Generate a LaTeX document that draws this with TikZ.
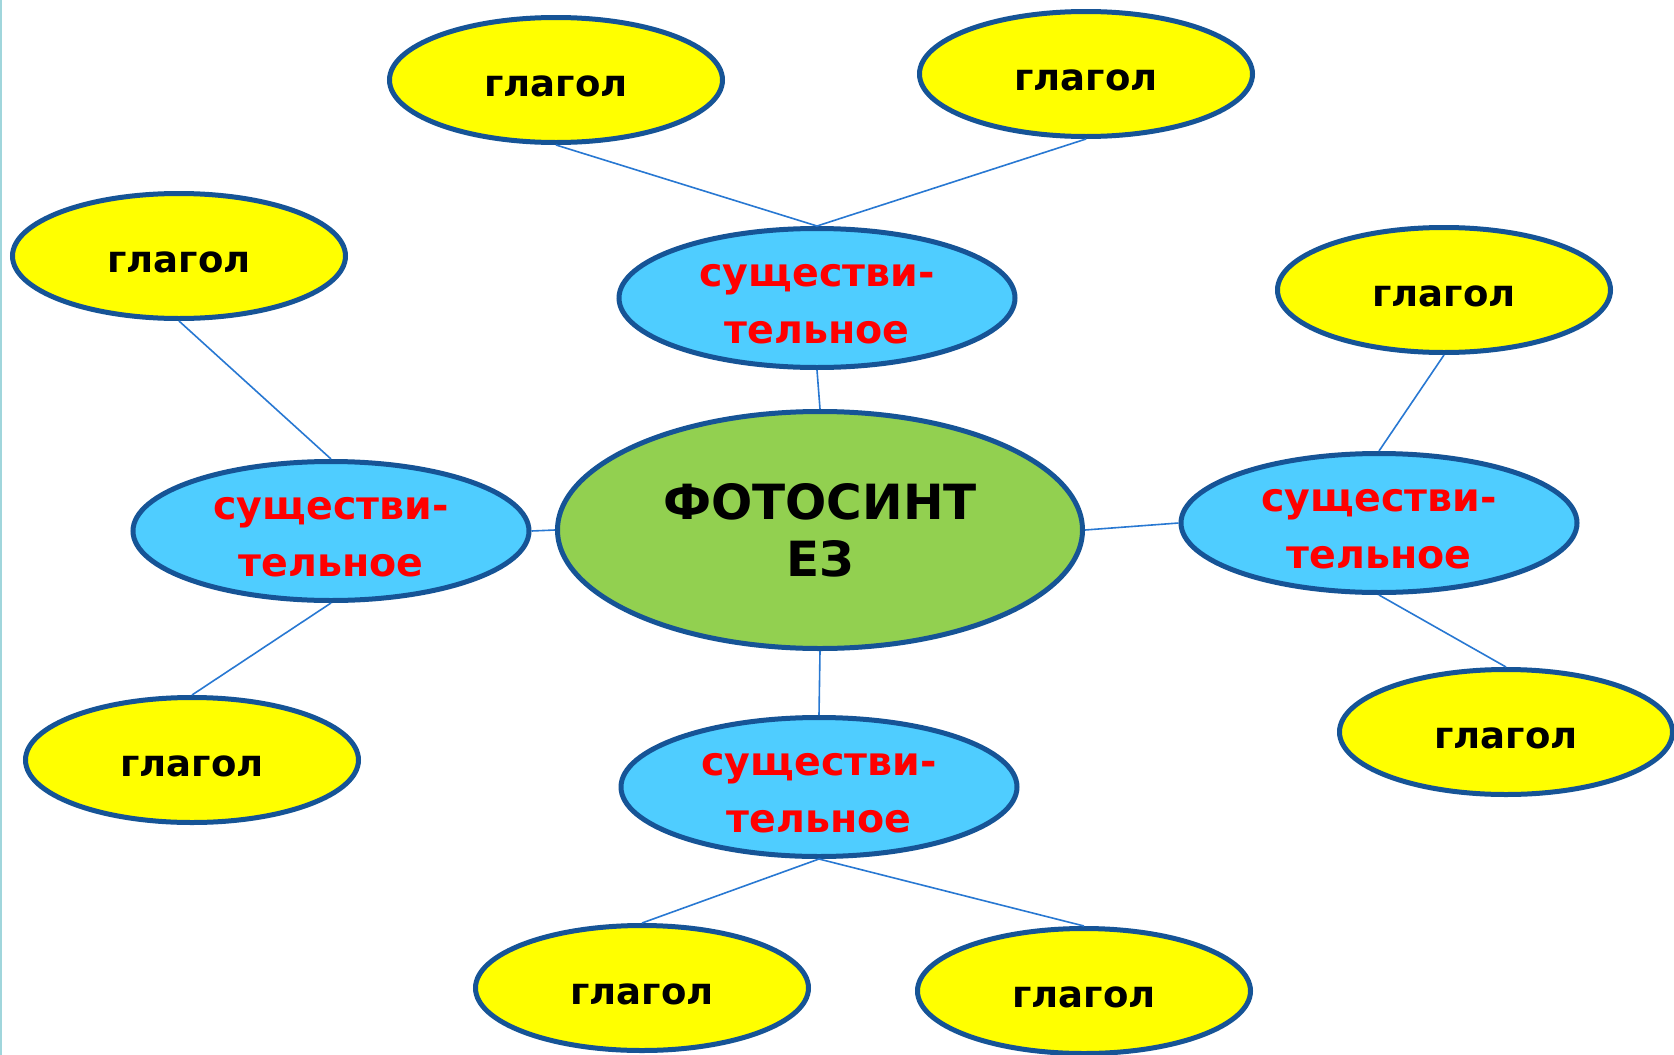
\documentclass[tikz,border=0pt]{standalone}
\usepackage{fontspec}
\setmainfont{DejaVu Sans}
\usetikzlibrary{shapes.geometric}
\definecolor{rim}{RGB}{22,84,150}
\definecolor{link}{RGB}{40,120,210}
\definecolor{yel}{RGB}{255,255,0}
\definecolor{sky}{RGB}{79,205,255}
\definecolor{leaf}{RGB}{146,208,80}
\definecolor{edgeline}{RGB}{160,214,220}
\newcommand\lowtxt[1]{\raisebox{-6pt}[\height][\depth]{#1}}
\tikzset{
  blob/.style={ellipse, draw=rim, line width=5pt, inner sep=0pt},
  verbnode/.style={blob, fill=yel, minimum width=333pt, minimum height=125pt,
    font=\fontsize{37}{44}\selectfont\bfseries, text=black},
  nounnode/.style={blob, fill=sky, minimum width=396pt, minimum height=139pt,
    font=\fontsize{39.5}{57}\selectfont\bfseries, text=red, align=center},
  mainnode/.style={blob, fill=leaf, minimum width=525pt, minimum height=237pt,
    font=\fontsize{48.5}{57}\selectfont\bfseries, text=black, align=center},
  conn/.style={draw=link, line width=1.6pt}
}
\begin{document}
\begin{tikzpicture}[x=1pt,y=-1pt]
\clip (0,0) rectangle (1674,1055);
\fill[white] (0,0) rectangle (1674,1055);
\draw[edgeline, line width=1.5pt] (0.75,0) -- (0.75,1055);
\node[mainnode] (c) at (820,530) {ФОТОСИНТ\\ЕЗ};
\node[nounnode] (nt) at (817,298) {\lowtxt{существи-}\\\lowtxt{тельное}};
\node[nounnode] (nl) at (331,531) {\lowtxt{существи-}\\\lowtxt{тельное}};
\node[nounnode] (nr) at (1379,523) {\lowtxt{существи-}\\\lowtxt{тельное}};
\node[nounnode] (nb) at (819,787) {\lowtxt{существи-}\\\lowtxt{тельное}};
\node[verbnode] (g1) at (556,80) {\lowtxt{глагол}};
\node[verbnode] (g2) at (1086,74) {\lowtxt{глагол}};
\node[verbnode] (g3) at (179,256) {\lowtxt{глагол}};
\node[verbnode] (g4) at (192,760) {\lowtxt{глагол}};
\node[verbnode] (g5) at (1444,290) {\lowtxt{глагол}};
\node[verbnode] (g6) at (1506,732) {\lowtxt{глагол}};
\node[verbnode] (g7) at (642,988) {\lowtxt{глагол}};
\node[verbnode] (g8) at (1084,991) {\lowtxt{глагол}};
\draw[conn] (g1.south) -- (nt.north);
\draw[conn] (g2.south) -- (nt.north);
\draw[conn] (nt.south) -- (c.north);
\draw[conn] (g3.south) -- (nl.north);
\draw[conn] (nl.south) -- (g4.north);
\draw[conn] (nl.east) -- (c.west);
\draw[conn] (c.east) -- (nr.west);
\draw[conn] (nr.north) -- (g5.south);
\draw[conn] (nr.south) -- (g6.north);
\draw[conn] (c.south) -- (nb.north);
\draw[conn] (nb.south) -- (g7.north);
\draw[conn] (nb.south) -- (g8.north);
\end{tikzpicture}
\end{document}
